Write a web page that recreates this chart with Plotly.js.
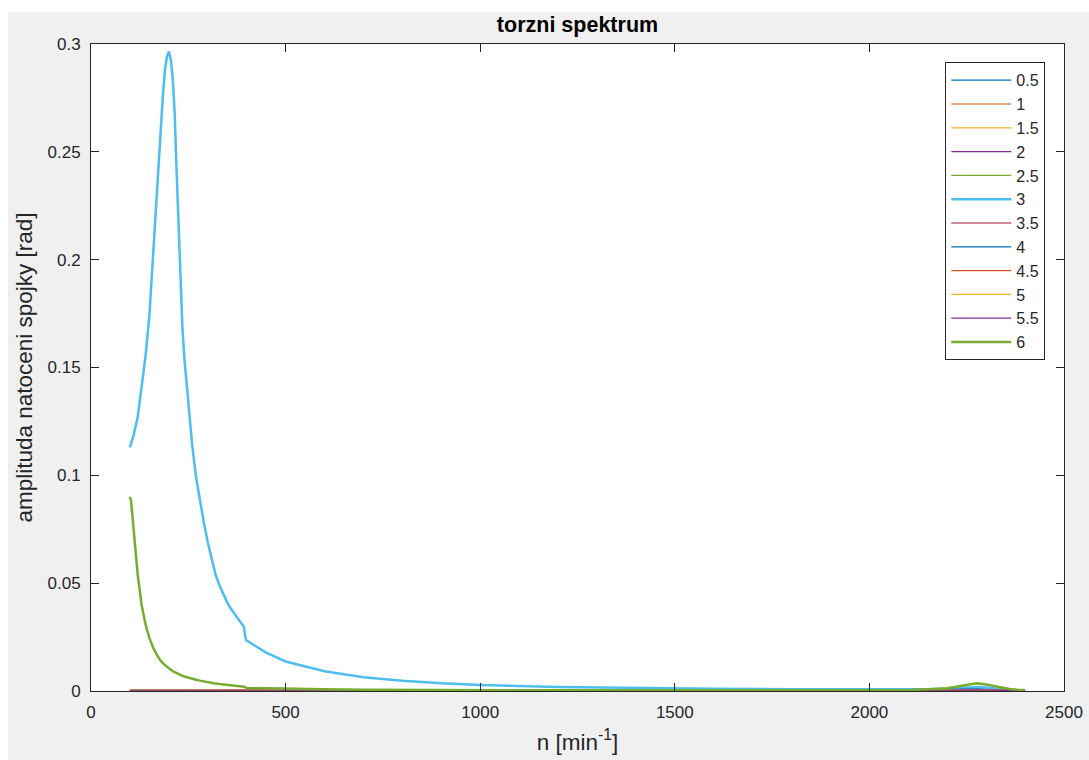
<!DOCTYPE html>
<html>
<head>
<meta charset="utf-8">
<script src="https://cdn.plot.ly/plotly-3.0.1.min.js"></script>
<style>
html,body{margin:0;padding:0;background:#ffffff;}
#plot{position:absolute;left:8px;top:12px;width:1081px;height:748px;}
</style>
</head>
<body>
<div id="plot"></div>
<script>
// speed grid for order 3
const n3 = [100,110,120,130,140,150,160,165,170,175,180,185,190,195,200,205,210,215,220,225,230,235,240,245,250,260,270,280,290,300,310,320,330,340,350,360,370,380,390,393,398,450,500,600,700,800,900,1000,1200,1400,1600,1800,2000,2100,2150,2200,2230,2250,2275,2300,2320,2340,2360,2380,2400];
const order3 = [0.113,0.119,0.127,0.1405,0.155,0.174,0.204,0.219,0.235,0.251,
                0.265,0.277,0.288,0.294,0.2965,0.293,0.284,0.268,0.241,0.214,
                0.189,0.168,0.154,0.143,0.133,0.114,0.099,0.088,0.078,0.069,
                0.061,0.054,0.049,0.045,0.041,0.038,0.0355,0.033,0.0305,0.0297,
                0.0236,0.0178,0.0137,0.0092,0.0064,0.0047,0.0036,0.0028,0.0018,0.0013,
                0.0010,0.0008,0.0007,0.0007,0.0008,0.0010,0.0014,0.0017,0.0019,0.0016,
                0.0011,0.0007,0.0004,0.0003,0.0002];

// speed grid for order 6
const n6 = [100,103,106,110,115,120,130,140,150,160,170,180,190,195,200,205,210,215,220,225,230,235,240,245,250,260,270,280,290,300,315,330,355,375,393,400,450,500,600,700,800,900,1000,1200,1400,1600,1800,2000,2100,2150,2200,2230,2250,2275,2300,2320,2340,2360,2380,2400];
const order6 = [0.090,0.088,0.082,0.074,0.063,0.054,0.040,0.031,0.0245,0.020,0.0165,0.0138,0.0120,0.0112,0.0105,0.0098,0.0092,0.0087,0.0082,0.0078,0.0074,0.0070,0.0067,0.0064,0.0061,0.0056,0.0052,0.0048,0.0044,0.0041,0.0036,0.0032,0.0027,0.0023,0.0020,0.0014,0.0012,0.0010,0.0008,0.0006,0.0005,0.0005,0.0004,0.0003,0.0003,0.0003,0.0003,0.0004,0.0005,0.0008,0.0013,0.0022,0.0029,0.0036,0.0030,0.0022,0.0014,0.0009,0.0006,0.0005];

// coarse grid for the near-zero orders
const nSmall = [100,400,1000,2000,2275,2400];
const order0_5 = [0.0001,0.0001,0.0000,0.0000,0.0002,0.0000];
const order1   = [0.0002,0.0002,0.0001,0.0000,0.0003,0.0001];
const order1_5 = [0.0002,0.0002,0.0001,0.0001,0.0004,0.0001];
const order2   = [0.0003,0.0003,0.0001,0.0001,0.0005,0.0001];
const order2_5 = [0.0004,0.0003,0.0001,0.0001,0.0006,0.0001];
const order3_5 = [0.0003,0.0004,0.0002,0.0001,0.0008,0.0001];
const order4   = [0.0002,0.0002,0.0001,0.0001,0.0010,0.0001];
const order4_5 = [0.0003,0.0003,0.0002,0.0001,0.0007,0.0001];
const order5   = [0.0002,0.0002,0.0001,0.0001,0.0006,0.0001];
const order5_5 = [0.0001,0.0002,0.0001,0.0001,0.0005,0.0001];

const names = ['0.5','1','1.5','2','2.5','3','3.5','4','4.5','5','5.5','6'];
const xTicks = [0,500,1000,1500,2000,2500];
const yTicks = [0,0.05,0.1,0.15,0.2,0.25,0.3];

const colors = ['#0072BD','#D95319','#EDB120','#7E2F8E','#77AC30','#4DBEEE','#A2142F','#0072BD','#D95319','#EDB120','#7E2F8E','#77AC30'];
const seriesX = [nSmall,nSmall,nSmall,nSmall,nSmall,n3,nSmall,nSmall,nSmall,nSmall,nSmall,n6];
const seriesY = [order0_5,order1,order1_5,order2,order2_5,order3,order3_5,order4,order4_5,order5,order5_5,order6];
const widths = [1.2,1.2,1.2,1.2,1.2,2.5,1.2,1.2,1.2,1.2,1.2,2.5];

const traces = names.map((nm,i)=>({
  x: seriesX[i], y: seriesY[i], name: nm, type:'scatter', mode:'lines',
  line:{color:colors[i], width:widths[i]},
  legendgroup:'g'+i
}));

const axisCommon = {
  showgrid:false, zeroline:false, showline:true, linecolor:'#262626', linewidth:1,
  mirror:'ticks', ticks:'inside', ticklen:8, tickcolor:'#262626', tickwidth:1,
  tickfont:{family:'Liberation Sans, Arial, sans-serif', size:17, color:'#262626'}
};

const layout = {
  width:1081, height:748,
  paper_bgcolor:'#f0f0f0', plot_bgcolor:'#ffffff',
  margin:{l:83, r:25, t:32, b:69},
  font:{family:'Liberation Sans, Arial, sans-serif', color:'#262626'},
  title:{text:'<b>torzni spektrum</b>', x:0.5, xref:'paper', y:1-12/748, yref:'container', yanchor:'middle',
         font:{size:21.5, color:'#000000', family:'Liberation Sans, Arial, sans-serif'}},
  xaxis:Object.assign({}, axisCommon, {
    range:[0,2500], tickvals:xTicks, ticktext:xTicks.map(String), ticklabelstandoff:6,
    title:{text:'n [min<sup>-1</sup>]', standoff:12, font:{size:22.5, color:'#262626'}}
  }),
  yaxis:Object.assign({}, axisCommon, {
    range:[0,0.3], tickvals:yTicks, ticktext:yTicks.map(String), ticklabelstandoff:6,
    title:{text:'amplituda natoceni spojky [rad]', standoff:8, font:{size:22.5, color:'#262626'}}
  }),
  showlegend:true,
  legend:{x:0.878, y:0.9717, xanchor:'left', yanchor:'top', bgcolor:'#ffffff', bordercolor:'#262626', borderwidth:1,
          font:{size:16, color:'#262626'}, itemwidth:60, tracegroupgap:0.5, traceorder:'normal'}
};

Plotly.newPlot('plot', traces, layout, {displayModeBar:false, staticPlot:true});
</script>
</body>
</html>
